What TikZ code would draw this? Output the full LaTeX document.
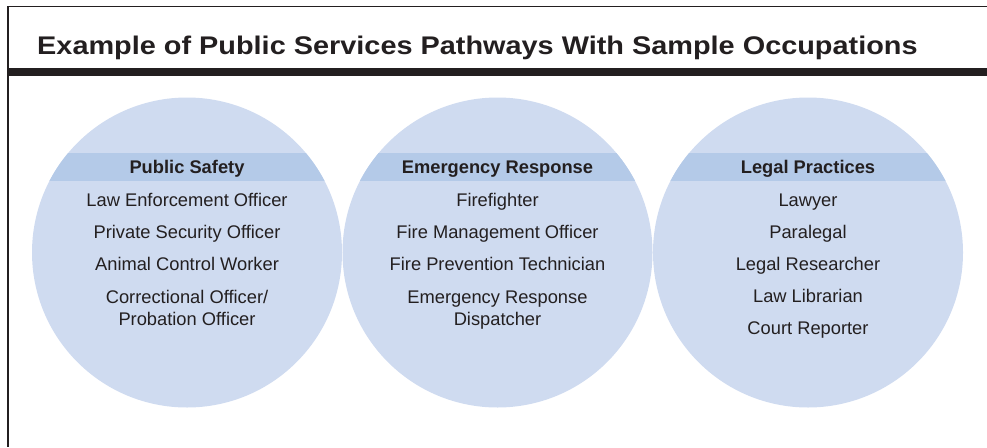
\documentclass[tikz,border=0pt]{standalone}
\usepackage{graphicx}
\usepackage{fontspec}
\setmainfont{Liberation Sans}
\usetikzlibrary{positioning}
\definecolor{pathfill}{RGB}{207,219,240}
\definecolor{bandfill}{RGB}{180,202,232}
\definecolor{ink}{RGB}{35,31,32}
\begin{document}
\begin{tikzpicture}[pathway/.style={circle, fill=pathfill, minimum size=310pt, inner sep=0pt}, head/.style={anchor=base, text=ink, font=\bfseries\fontsize{18.3}{22}\selectfont}, job/.style={anchor=base, text=ink, align=center, font=\fontsize{18.3}{22.5}\selectfont}]
\useasboundingbox (0pt, 0pt) rectangle (987pt, -447pt);
\draw[line width=1.3pt, ink] (987pt, -6.5pt) -- (8pt, -6.5pt) -- (8pt, -447pt);
\fill[ink] (8pt, -68.3pt) rectangle (987pt, -76pt);
\draw (37pt, -54.3pt)node[anchor=base west, inner xsep=0pt, text=ink, font=\bfseries\fontsize{25.5}{30}\selectfont](title){\scalebox{1.132}[1]{Example of Public Services Pathways With Sample Occupations}};
\draw (187.0pt, -252.5pt)node[pathway](safety){};
\draw (497.5pt, -252.5pt)node[pathway](emergency){};
\draw (808.0pt, -252.5pt)node[pathway](legal){};
\begin{scope}
\clip (safety.center) circle (155pt) (emergency.center) circle (155pt) (legal.center) circle (155pt);
\fill[bandfill] (0pt, -153pt) rectangle (987pt, -181pt);
\end{scope}
% public safety
\draw (187.0pt, -173.3pt)node[head](safetyhead){Public Safety};
\draw (187.0pt, -206pt)node[job](s1){Law Enforcement Officer};
\draw (187.0pt, -238.3pt)node[job](s2){Private Security Officer};
\draw (187.0pt, -270pt)node[job](s3){Animal Control Worker};
\draw (187.0pt, -325.5pt)node[job](s4){Correctional Officer/\\Probation Officer};
% emergency response
\draw (497.5pt, -173.3pt)node[head](emergencyhead){Emergency Response};
\draw (497.5pt, -206pt)node[job](e1){Firefighter};
\draw (497.5pt, -238.3pt)node[job](e2){Fire Management Officer};
\draw (497.5pt, -270pt)node[job](e3){Fire Prevention Technician};
\draw (497.5pt, -325.5pt)node[job](e4){Emergency Response\\Dispatcher};
% legal practices
\draw (808.0pt, -173.3pt)node[head](legalhead){Legal Practices};
\draw (808.0pt, -206pt)node[job](l1){Lawyer};
\draw (808.0pt, -238.3pt)node[job](l2){Paralegal};
\draw (808.0pt, -270pt)node[job](l3){Legal Researcher};
\draw (808.0pt, -302.3pt)node[job](l4){Law Librarian};
\draw (808.0pt, -334.3pt)node[job](l5){Court Reporter};
\end{tikzpicture}
\end{document}
